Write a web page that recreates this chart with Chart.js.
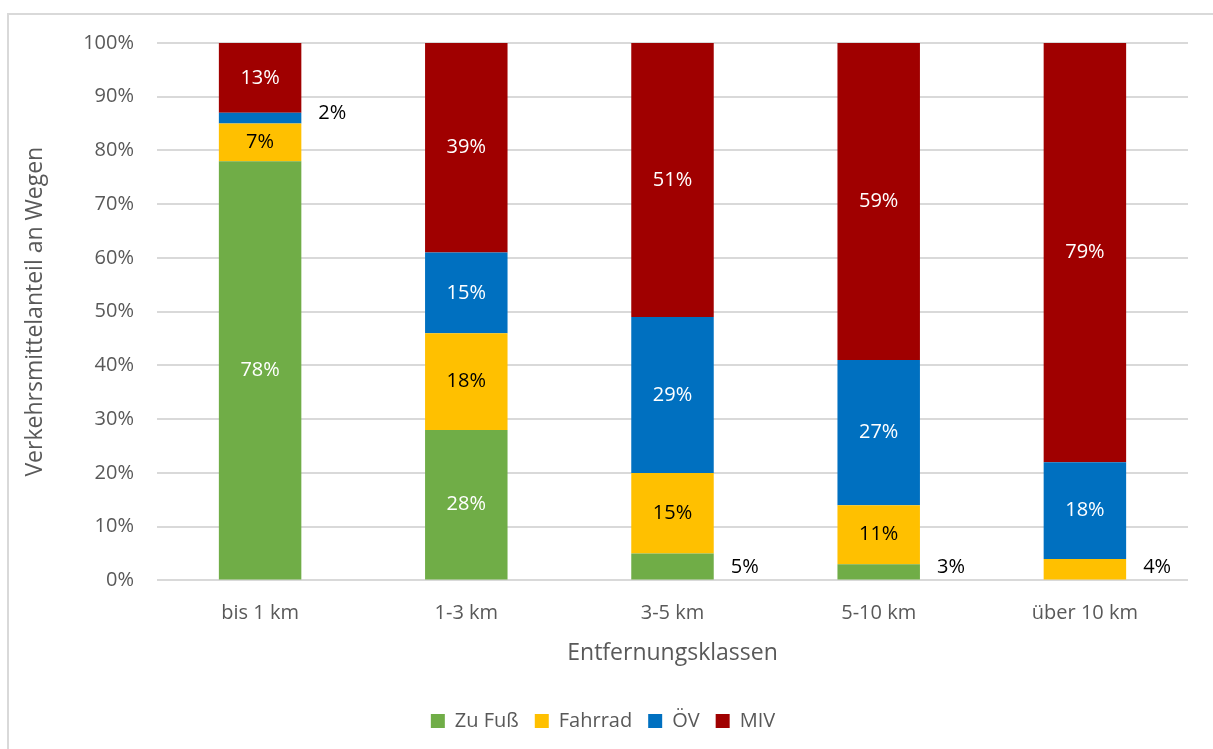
<!DOCTYPE html>
<html>
<head>
<meta charset="utf-8">
<script src="https://cdn.jsdelivr.net/npm/chart.js@4/dist/chart.umd.min.js"></script>
<style>
  html, body { margin: 0; padding: 0; background: #fff; overflow: hidden; }
  #frame { position: absolute; left: 7px; top: 13px; width: 1230px; height: 760px; border: 2px solid #d9d9d9; }
  #wrap { position: absolute; left: 0; top: 0; width: 1213px; height: 749px; }
</style>
</head>
<body>
<div id="frame"></div>
<div id="wrap"><canvas id="chart" width="1213" height="749"></canvas></div>
<script>
// Entfernungsklassen
const categories = ['bis 1 km', '1-3 km', '3-5 km', '5-10 km', 'über 10 km'];

// Verkehrsmittelanteil in %
const zuFuss  = [78, 28, 5, 3, 0];
const fahrrad = [7, 18, 15, 11, 4];
const oev     = [2, 15, 29, 27, 18];
const miv     = [13, 39, 51, 59, 79];

const yTicks = [0, 10, 20, 30, 40, 50, 60, 70, 80, 90, 100];

const FONT = "'Open Sans', sans-serif";
const GREY = '#595959';

// simple data labels, Excel style
const barLabels = {
    id: 'barLabels',
    afterDatasetsDraw(chart) {
        const ctx = chart.ctx;
        const bottom = chart.chartArea.bottom;
        ctx.save();
        ctx.font = '20px ' + FONT;
        ctx.textBaseline = 'middle';
        chart.data.datasets.forEach((ds, i) => {
            const meta = chart.getDatasetMeta(i);
            meta.data.forEach((bar, j) => {
                const v = ds.data[j];
                if (!v) return;
                const text = v + '%';
                const top = Math.max(bar.y, chart.chartArea.top);
                const cy = (top + bar.base) / 2;
                if (v <= 5) {
                    // small values sit right of the bar
                    const y = cy > bottom - 20 ? bottom - 13 : cy - 5;
                    ctx.fillStyle = '#000';
                    ctx.textAlign = 'left';
                    ctx.fillText(text, bar.x + bar.width / 2 + 17, y);
                } else {
                    ctx.fillStyle = ds.labelColor;
                    ctx.textAlign = 'center';
                    ctx.fillText(text, bar.x, cy);
                }
            });
        });
        ctx.restore();
    }
};

new Chart(document.getElementById('chart'), {
    type: 'bar',
    data: {
        labels: categories,
        datasets: [
            { label: 'Zu Fuß', data: zuFuss, backgroundColor: '#70ad47', labelColor: '#fff' },
            { label: 'Fahrrad', data: fahrrad, backgroundColor: '#ffc000', labelColor: '#000' },
            { label: 'ÖV', data: oev, backgroundColor: '#0070c0', labelColor: '#fff' },
            { label: 'MIV', data: miv, backgroundColor: '#a00000', labelColor: '#fff' }
        ]
    },
    options: {
        responsive: false,
        animation: false,
        devicePixelRatio: 1,
        layout: { padding: { left: 18, right: 25, top: 43, bottom: 8 } },
        datasets: {
            bar: { categoryPercentage: 1, barPercentage: 0.4, borderWidth: 0 }
        },
        scales: {
            x: {
                stacked: true,
                grid: { display: false },
                border: { display: false },
                ticks: { color: GREY, font: { family: FONT, size: 20 }, padding: 13 },
                title: {
                    display: true,
                    text: 'Entfernungsklassen',
                    color: GREY,
                    font: { family: FONT, size: 23 },
                    padding: { top: 1, bottom: 28 }
                }
            },
            y: {
                stacked: true,
                min: 0,
                max: 100,
                afterBuildTicks(scale) {
                    scale.ticks = yTicks.map(v => ({ value: v }));
                },
                afterFit(scale) { scale.width = 139; },
                grid: { color: '#d9d9d9', lineWidth: 2, drawTicks: false },
                border: { display: false },
                ticks: {
                    color: GREY,
                    font: { family: FONT, size: 20 },
                    padding: 23,
                    callback: v => v + '%'
                },
                title: {
                    display: true,
                    text: 'Verkehrsmittelanteil an Wegen',
                    color: GREY,
                    font: { family: FONT, size: 23 },
                    padding: { top: 4, bottom: 4 }
                }
            }
        },
        plugins: {
            legend: {
                position: 'bottom',
                labels: {
                    boxWidth: 14,
                    boxHeight: 14,
                    color: GREY,
                    font: { family: FONT, size: 20 },
                    padding: 16
                }
            },
            tooltip: { enabled: false }
        }
    },
    plugins: [barLabels]
});
</script>
</body>
</html>
